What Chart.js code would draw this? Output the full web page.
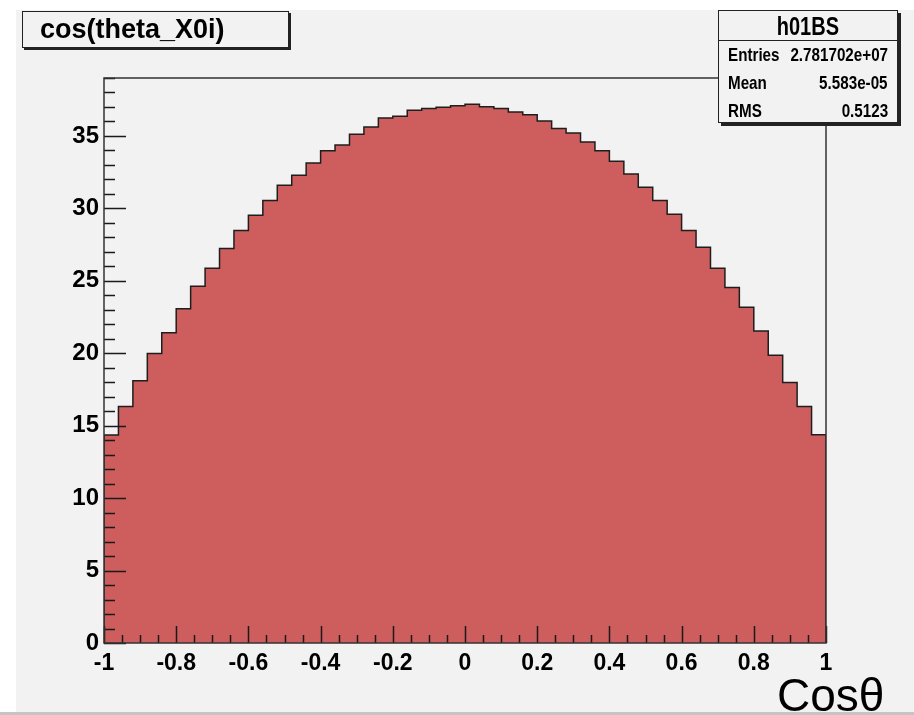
<!DOCTYPE html>
<html>
<head>
<meta charset="utf-8">
<script src="https://cdn.jsdelivr.net/npm/chart.js@4.4.0/dist/chart.umd.min.js"></script>
<style>
  body { margin: 0; background: #fff; }
  .page { position: relative; width: 914px; height: 715px; overflow: hidden; font-family: 'Liberation Sans', Arial, sans-serif; }
  .pad { position: absolute; left: 16px; top: 10px; width: 898px; height: 702px; background: #f2f2f2; }
  .bottomline { position: absolute; left: 0; top: 712px; width: 914px; height: 3px; background: #c4c4c4; }
  canvas { position: absolute; left: 0; top: 0; }
  .titlebox { position: absolute; left: 22px; top: 11px; width: 265px; height: 35px; border: 1.5px solid #222; background: #f2f2f2; box-shadow: 2px 2px 0 #222; }
  .titlebox span { position: absolute; left: 17px; top: 2px; font-weight: bold; font-size: 27px; line-height: 30px; color: #000; }
  .stats { position: absolute; left: 718px; top: 10px; width: 178px; height: 111px; border: 1.5px solid #222; background: #f2f2f2; box-shadow: 3px 3px 0 #222; }
  .stats .head { position: absolute; left: 0; top: 0; width: 100%; height: 28.5px; border-bottom: 1.5px solid #222; text-align: center; }
  .stats .head span { display: inline-block; font-weight: bold; font-size: 25px; line-height: 30px; transform: scaleX(0.8); }
  .row { position: absolute; left: 0; width: 100%; height: 28px; font-weight: bold; font-size: 19px; line-height: 28px; }
  .row .k { position: absolute; left: 9px; transform: scaleX(0.8); transform-origin: left center; }
  .row .v { position: absolute; right: 9px; transform: scaleX(0.8); transform-origin: right center; }
  .xtitle { position: absolute; left: 777px; top: 672px; font-size: 46px; line-height: 46px; color: #000; }
</style>
</head>
<body>
<div class="page">
  <div class="pad"></div>
  <div class="bottomline"></div>
  <canvas id="hist" width="914" height="715"></canvas>
  <div class="titlebox"><span id="title"></span></div>
  <div class="stats" id="stats"></div>
  <div class="xtitle" id="xtitle"></div>
</div>
<script>
const histTitle = 'cos(theta_X0i)';
const histName = 'h01BS';
const statLabels = ['Entries', 'Mean', 'RMS'];
const statValues = ['2.781702e+07', '5.583e-05', '0.5123'];
const axisTitle = 'Cosθ';

// 50 bins from -1 to 1
const xRange = [-1, 1];
const counts = [
  14.36, 16.33, 18.10, 19.99, 21.41, 23.07, 24.63, 25.87, 27.23, 28.47,
  29.53, 30.54, 31.60, 32.29, 33.14, 33.97, 34.38, 35.11, 35.62, 36.24,
  36.36, 36.77, 36.89, 36.98, 37.09, 37.18, 37.02, 36.89, 36.66, 36.47,
  36.03, 35.51, 35.21, 34.59, 33.97, 33.25, 32.38, 31.46, 30.54, 29.60,
  28.47, 27.32, 25.87, 24.54, 23.18, 21.53, 19.87, 17.99, 16.33, 14.38
];
const xTicks = [-1, -0.8, -0.6, -0.4, -0.2, 0, 0.2, 0.4, 0.6, 0.8, 1];
const yTicks = [0, 5, 10, 15, 20, 25, 30, 35];
const yMax = 39;

document.getElementById('title').textContent = histTitle;
document.getElementById('xtitle').textContent = axisTitle;
const stats = document.getElementById('stats');
stats.innerHTML = '<div class="head"><span>' + histName + '</span></div>';
statLabels.forEach((lab, i) => {
  const row = document.createElement('div');
  row.className = 'row';
  row.style.top = (30 + i * 28) + 'px';
  row.innerHTML = '<span class="k">' + lab + '</span><span class="v">' + statValues[i] + '</span>';
  stats.appendChild(row);
});

// step outline points on bin edges
const binW = (xRange[1] - xRange[0]) / counts.length;
const points = [{ x: xRange[0], y: 0 }];
counts.forEach((c, i) => points.push({ x: xRange[0] + i * binW, y: c }));
points.push({ x: xRange[1], y: counts[counts.length - 1] });
points.push({ x: xRange[1], y: 0 });

// frame + inward ticks like ROOT
const frameTicks = {
  id: 'frameTicks',
  afterDatasetsDraw(chart) {
    const { ctx, chartArea: a, scales: { x, y } } = chart;
    ctx.save();
    ctx.strokeStyle = '#1a1a1a';
    ctx.lineWidth = 1.5;
    ctx.beginPath();
    for (let v = 0; v <= yMax; v += 1) {
      const py = Math.round(y.getPixelForValue(v)) + 0.5;
      const len = v % 5 === 0 ? 22 : 11;
      ctx.moveTo(a.left, py);
      ctx.lineTo(a.left + len, py);
    }
    for (let k = 0; k <= 40; k++) {
      const v = xRange[0] + k * 0.05;
      const px = Math.round(x.getPixelForValue(v)) + 0.5;
      const len = k % 4 === 0 ? 17 : 8;
      ctx.moveTo(px, a.bottom);
      ctx.lineTo(px, a.bottom - len);
    }
    ctx.stroke();
    ctx.strokeStyle = '#333';
    ctx.strokeRect(a.left, a.top, a.right - a.left, a.bottom - a.top);
    ctx.restore();
  }
};

new Chart(document.getElementById('hist'), {
  type: 'line',
  data: {
    datasets: [{
      data: points,
      stepped: 'before',
      fill: 'origin',
      backgroundColor: '#ce5e5e',
      borderColor: '#1e1e1e',
      borderWidth: 1.5,
      pointRadius: 0
    }]
  },
  options: {
    responsive: false,
    animation: false,
    devicePixelRatio: 1,
    layout: { padding: { left: 0, top: 78, right: 88, bottom: 0 } },
    plugins: { legend: { display: false }, tooltip: { enabled: false } },
    scales: {
      x: {
        type: 'linear',
        min: xRange[0],
        max: xRange[1],
        grid: { display: false, drawTicks: false },
        border: { display: false },
        afterBuildTicks: (s) => { s.ticks = xTicks.map(v => ({ value: v })); },
        afterFit: (s) => { s.height = 72; },
        ticks: {
          color: '#000',
          padding: 7,
          maxRotation: 0,
          autoSkip: false,
          font: { family: 'Liberation Sans', weight: 'bold', size: 23 },
          callback: (v) => String(Math.round(v * 10) / 10)
        }
      },
      y: {
        min: 0,
        max: yMax,
        grid: { display: false, drawTicks: false },
        border: { display: false },
        afterBuildTicks: (s) => { s.ticks = yTicks.map(v => ({ value: v })); },
        afterFit: (s) => { s.width = 104; },
        ticks: {
          color: '#000',
          padding: 5,
          autoSkip: false,
          font: { family: 'Liberation Sans', weight: 'bold', size: 24 }
        }
      }
    }
  },
  plugins: [frameTicks]
});
</script>
</body>
</html>
